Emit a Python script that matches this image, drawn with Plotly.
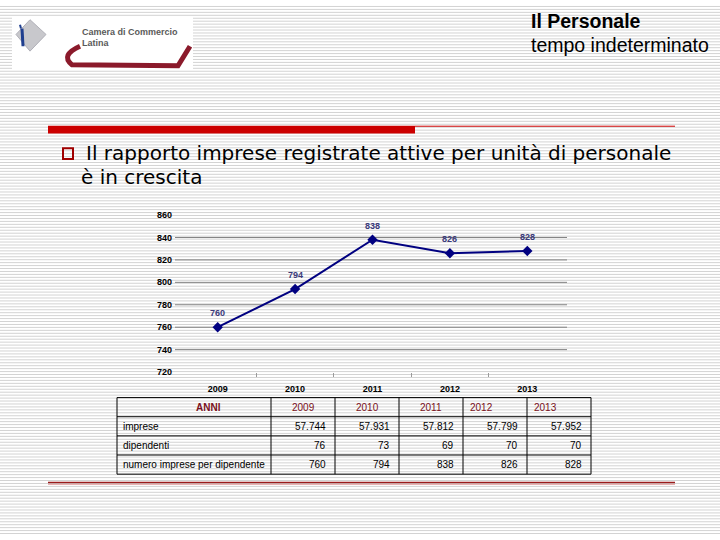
import plotly.graph_objects as go

# ---------------- data ----------------
anni = ["2009", "2010", "2011", "2012", "2013"]
imprese = ["57.744", "57.931", "57.812", "57.799", "57.952"]
dipendenti = [76, 73, 69, 70, 70]
imprese_per_dipendente = [760, 794, 838, 826, 828]
y_ticks = [720, 740, 760, 780, 800, 820, 840, 860]
grid_vals = [740, 760, 780, 800, 820, 840]
row_labels = ["imprese", "dipendenti", "numero imprese per dipendente"]

W, H = 720, 540


def px(x):
    return x / W


def py(y):
    return 1 - y / H


fig = go.Figure()

fig.add_trace(go.Scatter(
    x=list(range(len(anni))), y=imprese_per_dipendente, mode="lines+markers",
    line=dict(color="#000080", width=2),
    marker=dict(symbol="diamond", size=8, color="#000080"),
    showlegend=False, hoverinfo="skip",
))

shapes = []
annotations = []

# striped background
for yy in range(0, H, 3):
    shapes.append(dict(type="line", xref="paper", yref="paper", layer="below",
                       x0=0, x1=1, y0=py(yy + 1.5), y1=py(yy + 1.5),
                       line=dict(color="#d3d3d3", width=1)))

# logo box
shapes.append(dict(type="rect", xref="paper", yref="paper", layer="below",
                   x0=px(12), x1=px(193), y0=py(66), y1=py(12),
                   fillcolor="white", line=dict(width=0)))
# logo icon (approximation)
shapes.append(dict(type="path", xref="paper", yref="paper", layer="below",
                   path=f"M {px(30)},{py(15)} L {px(46)},{py(30)} L {px(30)},{py(47)} L {px(16)},{py(30)} Z",
                   fillcolor="#c8c8cc", line=dict(color="#b0b0b8", width=1)))
shapes.append(dict(type="line", xref="paper", yref="paper", layer="below",
                   x0=px(22), x1=px(23), y0=py(24), y1=py(42),
                   line=dict(color="#1f3f8f", width=3)))
shapes.append(dict(type="line", xref="paper", yref="paper", layer="below",
                   x0=px(20), x1=px(21), y0=py(20), y1=py(24),
                   line=dict(color="#1f3f8f", width=2)))
# logo swoosh
shapes.append(dict(type="path", xref="paper", yref="paper", layer="below",
                   path=(f"M {px(80)},{py(42)} Q {px(60)},{py(51)} {px(72)},{py(61)} "
                         f"L {px(178)},{py(62)} L {px(190)},{py(42)}"),
                   line=dict(color="#8b1a2b", width=5)))
logo_font = dict(family="Liberation Sans Narrow, Arial Narrow, Liberation Sans, sans-serif",
                 size=9, color="#5a5a5a")
annotations.append(dict(x=px(80), y=py(27), xref="paper", yref="paper",
                        text="<b>Camera di Commercio</b>", showarrow=False,
                        xanchor="left", yanchor="middle", font=logo_font))
annotations.append(dict(x=px(80), y=py(39), xref="paper", yref="paper",
                        text="<b>Latina</b>", showarrow=False,
                        xanchor="left", yanchor="middle", font=logo_font))

# title
annotations.append(dict(x=px(529), y=py(16), xref="paper", yref="paper",
                        text="<b>Il Personale</b>", showarrow=False,
                        xanchor="left", yanchor="middle",
                        font=dict(family="Liberation Sans, Arial, sans-serif", size=19.5, color="black")))
annotations.append(dict(x=px(529), y=py(41), xref="paper", yref="paper",
                        text="tempo indeterminato", showarrow=False,
                        xanchor="left", yanchor="middle",
                        font=dict(family="Liberation Sans, Arial, sans-serif", size=19.5, color="black")))

# red rule
shapes.append(dict(type="rect", xref="paper", yref="paper", layer="below",
                   x0=px(48), x1=px(415), y0=py(131), y1=py(123),
                   fillcolor="#cc0000", line=dict(width=0)))
shapes.append(dict(type="line", xref="paper", yref="paper", layer="below",
                   x0=px(415), x1=px(675), y0=py(123.5), y1=py(123.5),
                   line=dict(color="#cc0000", width=1)))

# bullet
shapes.append(dict(type="rect", xref="paper", yref="paper",
                   x0=px(63), x1=px(73), y0=py(157), y1=py(146),
                   fillcolor="rgba(0,0,0,0)", line=dict(color="#a00000", width=2)))
bfont = dict(family="DejaVu Sans, Verdana, sans-serif", size=20, color="black")
annotations.append(dict(x=px(84), y=py(151), xref="paper", yref="paper",
                        text="Il rapporto imprese registrate attive per unità di personale",
                        showarrow=False, xanchor="left", yanchor="middle", font=bfont))
annotations.append(dict(x=px(79), y=py(175), xref="paper", yref="paper",
                        text="è in crescita", showarrow=False, xanchor="left", yanchor="middle",
                        font=bfont))

# gridlines
for g in grid_vals:
    shapes.append(dict(type="line", xref="paper", yref="y", layer="below",
                       x0=px(175), x1=px(567), y0=g, y1=g,
                       line=dict(color="#808080", width=1)))

# data labels
for j, v in enumerate(imprese_per_dipendente):
    annotations.append(dict(x=j, y=v, xref="x", yref="y", text=f"<b>{v}</b>",
                            showarrow=False, yshift=14, yanchor="middle",
                            font=dict(family="Liberation Sans, Arial, sans-serif", size=9, color="#3a3a7a")))

# table
tx0, tx1 = 117, 591
col_x = [117, 271, 335, 399, 463, 527, 591]
row_y = [400, 419.5, 439, 458.5, 478]
for yy in row_y:
    shapes.append(dict(type="line", xref="paper", yref="paper",
                       x0=px(tx0), x1=px(tx1), y0=py(yy), y1=py(yy),
                       line=dict(color="black", width=1)))
for xx in col_x:
    shapes.append(dict(type="line", xref="paper", yref="paper",
                       x0=px(xx), x1=px(xx), y0=py(row_y[0]), y1=py(row_y[-1]),
                       line=dict(color="black", width=1)))

tfont = dict(family="Liberation Sans, Arial, sans-serif", size=10, color="black")
hfont = dict(family="Liberation Sans, Arial, sans-serif", size=10, color="#7a1020")


def cy(i):
    return py((row_y[i] + row_y[i + 1]) / 2)


annotations.append(dict(x=px((col_x[0] + col_x[1]) / 2), y=cy(0), xref="paper", yref="paper",
                        text="<b>ANNI</b>", showarrow=False, yanchor="middle", font=hfont))
for j, a in enumerate(anni):
    annotations.append(dict(x=px((col_x[j + 1] + col_x[j + 2]) / 2), y=cy(0), xref="paper", yref="paper",
                            text=a, showarrow=False, yanchor="middle", font=hfont))
rows = [imprese, [str(d) for d in dipendenti], [str(v) for v in imprese_per_dipendente]]
for i, (lab, vals) in enumerate(zip(row_labels, rows)):
    annotations.append(dict(x=px(col_x[0] + 4), y=cy(i + 1), xref="paper", yref="paper",
                            text=lab, showarrow=False, xanchor="left", yanchor="middle", font=tfont))
    for j, v in enumerate(vals):
        annotations.append(dict(x=px(col_x[j + 2] - 7), y=cy(i + 1), xref="paper", yref="paper",
                                text=v, showarrow=False, xanchor="right", yanchor="middle", font=tfont))

# bottom red rule
shapes.append(dict(type="line", xref="paper", yref="paper",
                   x0=px(48), x1=px(675), y0=py(486.5), y1=py(486.5),
                   line=dict(color="#9b1c1c", width=1.5)))
shapes.append(dict(type="line", xref="paper", yref="paper",
                   x0=px(48), x1=px(675), y0=py(488.5), y1=py(488.5),
                   line=dict(color="#e8b0b0", width=1)))

fig.update_layout(
    width=W, height=H,
    margin=dict(l=0, r=0, t=0, b=0),
    paper_bgcolor="white", plot_bgcolor="rgba(0,0,0,0)",
    shapes=shapes, annotations=annotations,
    xaxis=dict(domain=[px(179), px(566)],
               range=[-0.5, len(anni) - 0.5],
               showgrid=False, zeroline=False, showline=False,
               ticks="", tickvals=list(range(len(anni))),
               ticktext=[f"<b>{a}</b>" for a in anni],
               ticklabelstandoff=10,
               minor=dict(ticks="outside", tickvals=[j + 0.5 for j in range(len(anni) - 1)],
                          ticklen=4, tickcolor="#999999"),
               tickfont=dict(family="Liberation Sans, Arial, sans-serif", size=9, color="black")),
    yaxis=dict(domain=[py(374), py(214)], range=[y_ticks[0], y_ticks[-1]],
               showgrid=False, zeroline=False, showline=False,
               tickvals=y_ticks, ticktext=[f"<b>{t}</b>" for t in y_ticks],
               ticks="", ticklabelstandoff=6,
               tickfont=dict(family="Liberation Sans, Arial, sans-serif", size=9, color="black")),
)

fig.write_html("out.html", config={"displayModeBar": False},
               post_script="document.body.style.margin='0';")
